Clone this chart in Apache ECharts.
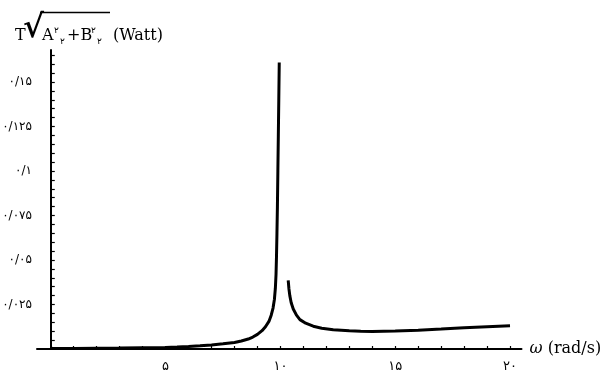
<!DOCTYPE html>
<html>
<head>
<meta charset="utf-8">
<script src="https://cdn.jsdelivr.net/npm/echarts@6/dist/echarts.min.js"></script>
<style>html,body{margin:0;padding:0;background:#fff;}#c{width:613px;height:376px;}</style>
</head>
<body>
<div id="c"></div>
<script>
// ---- data ----
const leftBranch = [
  [0, 0.0003], [1, 0.0003], [2, 0.0004], [3, 0.0005], [4, 0.0007], [5, 0.0009],
  [5.5, 0.0011], [6, 0.0014], [6.5, 0.0018], [7, 0.0023], [7.5, 0.0029], [8, 0.0037],
  [8.3, 0.0045], [8.6, 0.0056], [8.8, 0.0067], [9.0, 0.0082], [9.2, 0.0103],
  [9.35, 0.0125], [9.5, 0.0155], [9.6, 0.019], [9.68, 0.023], [9.74, 0.028],
  [9.78, 0.034], [9.81, 0.042], [9.83, 0.052], [9.85, 0.065], [9.87, 0.08],
  [9.89, 0.1], [9.91, 0.12], [9.93, 0.14], [9.95, 0.161]
];
const rightBranch = [
  [10.34, 0.0385], [10.37, 0.034], [10.41, 0.030], [10.47, 0.026], [10.56, 0.0225],
  [10.7, 0.019], [10.85, 0.0165], [11.1, 0.0145], [11.43, 0.0128], [11.8, 0.0117],
  [12.3, 0.0108], [13, 0.0102], [13.5, 0.0100], [14, 0.0099], [15, 0.0101],
  [16, 0.0106], [17, 0.0112], [18, 0.0119], [19, 0.0125], [20, 0.0131]
];
const xTickValues = [0,1,2,3,4,5,6,7,8,9,10,11,12,13,14,15,16,17,18,19,20];
const xLabelValues = [5, 10, 15, 20];
const xLabelTexts = ['۵', '۱۰', '۱۵', '۲۰'];
const yTickValues = [0.005,0.01,0.015,0.02,0.025,0.03,0.035,0.04,0.045,0.05,0.055,0.06,0.065,0.07,0.075,0.08,0.085,0.09,0.095,0.1,0.105,0.11,0.115,0.12,0.125,0.13,0.135,0.14,0.145,0.15,0.155,0.16,0.165];
const yLabelValues = [0.025, 0.05, 0.075, 0.1, 0.125, 0.15];
const yLabelTexts = ['۰/۰۲۵', '۰/۰۵', '۰/۰۷۵', '۰/۱', '۰/۱۲۵', '۰/۱۵'];

function lookup(vals, texts, v) {
  for (let i = 0; i < vals.length; i++) if (Math.abs(vals[i] - v) < 1e-9) return texts[i];
  return '';
}

const chart = echarts.init(document.getElementById('c'), null, {renderer: 'canvas'});
const serif = 'DejaVu Serif';
chart.setOption({
  animation: false,
  backgroundColor: '#fff',
  grid: {left: 37, right: 91.5, top: 50, bottom: 27, containLabel: false, outerBoundsMode: 'none'},
  xAxis: {
    type: 'value', min: -0.6, max: 20.5,
    splitLine: {show: false},
    axisLine: {onZero: true, lineStyle: {color: '#000', width: 2}},
    axisTick: {show: true, inside: true, length: 3, customValues: xTickValues, lineStyle: {color: '#000', width: 1.2}},
    axisLabel: {customValues: xLabelValues, margin: 11, color: '#000', fontFamily: 'DejaVu Sans', fontSize: 13,
      formatter: v => lookup(xLabelValues, xLabelTexts, v)},
    name: '{w|ω} (rad/s)', nameLocation: 'end', nameGap: 8,
    nameTextStyle: {color: '#000', fontFamily: serif, fontSize: 16, verticalAlign: 'middle',
      rich: {w: {fontStyle: 'italic', fontFamily: serif, fontSize: 16, color: '#000'}}}
  },
  yAxis: {
    type: 'value', min: 0, max: 0.168,
    splitLine: {show: false},
    axisLine: {onZero: true, lineStyle: {color: '#000', width: 2}},
    axisTick: {show: true, inside: true, length: 4, customValues: yTickValues, lineStyle: {color: '#000', width: 1.2}},
    axisLabel: {customValues: yLabelValues, margin: 5, color: '#000', fontFamily: 'DejaVu Sans', fontSize: 12,
      formatter: v => lookup(yLabelValues, yLabelTexts, v)}
  },
  series: [
    {name: 'left', type: 'line', data: leftBranch, showSymbol: false, lineStyle: {color: '#000', width: 3}},
    {name: 'right', type: 'line', data: rightBranch, showSymbol: false, lineStyle: {color: '#000', width: 3}}
  ],
  graphic: [
    {type: 'text', x: 15, y: 36, style: {text: 'T', fontFamily: serif, fontSize: 16, fill: '#000', verticalAlign: 'middle'}},
    {type: 'text', x: 23, y: 29, style: {text: '√', fontFamily: serif, fontSize: 32, fontWeight: 'bold', fill: '#000', verticalAlign: 'middle'}},
    {type: 'line', shape: {x1: 40, y1: 12.5, x2: 110, y2: 12.5}, style: {stroke: '#000', lineWidth: 1.5}},
    {type: 'text', x: 42, y: 36, style: {text: 'A', fontFamily: serif, fontSize: 16, fill: '#000', verticalAlign: 'middle'}},
    {type: 'text', x: 54, y: 31, style: {text: '۲', fontFamily: 'DejaVu Sans', fontSize: 9, fill: '#000', verticalAlign: 'middle'}},
    {type: 'text', x: 60, y: 42, style: {text: '۲', fontFamily: 'DejaVu Sans', fontSize: 9, fill: '#000', verticalAlign: 'middle'}},
    {type: 'text', x: 67, y: 36, style: {text: '+B', fontFamily: serif, fontSize: 16, fill: '#000', verticalAlign: 'middle'}},
    {type: 'text', x: 91, y: 31, style: {text: '۲', fontFamily: 'DejaVu Sans', fontSize: 9, fill: '#000', verticalAlign: 'middle'}},
    {type: 'text', x: 97, y: 42, style: {text: '۲', fontFamily: 'DejaVu Sans', fontSize: 9, fill: '#000', verticalAlign: 'middle'}},
    {type: 'text', x: 113, y: 36, style: {text: '(Watt)', fontFamily: serif, fontSize: 16, fill: '#000', verticalAlign: 'middle'}}
  ]
});
</script>
</body>
</html>
